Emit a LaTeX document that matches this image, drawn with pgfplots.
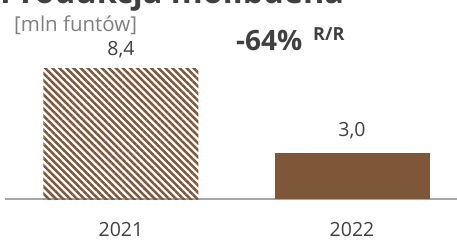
\documentclass[border=0pt]{standalone}
\usepackage{pgfplots}
\pgfplotsset{compat=1.18}
\usepackage{fontspec}
\setmainfont{Open Sans}
\usetikzlibrary{patterns.meta}
\definecolor{brownbar}{HTML}{7E5638}
\definecolor{txt}{HTML}{404040}
\definecolor{subtxt}{HTML}{7F7F7F}
\definecolor{axisgray}{HTML}{A6A6A6}
\begin{document}
\begin{tikzpicture}
\useasboundingbox (0,0) rectangle (457pt,242pt);
\clip (0,0) rectangle (457pt,242pt);
\begin{axis}[
  at={(5pt,43pt)}, anchor=south west,
  scale only axis, width=452pt, height=150pt,
  xmin=-0.502, xmax=1.4545, ymin=0, ymax=9.677,
  axis x line=bottom, hide y axis,
  x axis line style={-, draw=axisgray, line width=1.3pt},
  xtick={0,1}, xticklabels={2021,2022},
  major tick length=0pt,
  xticklabel style={anchor=base, yshift=-37pt, font=\fontsize{19.5}{22}\selectfont, text=txt},
  ybar, bar width=155pt,
  clip=false,
]
\addplot[bar shift=0pt, draw=none, pattern={Lines[angle=-45,distance=5pt,line width=2.5pt]}, pattern color=brownbar] coordinates {(0,8.4)};
\addplot[bar shift=0pt, draw=none, fill=brownbar] coordinates {(1,3.0)};
\node[anchor=base, text=txt, font=\fontsize{19.5}{22}\selectfont] at (axis cs:0,8.4) [yshift=13pt] {8,4};
\node[anchor=base, text=txt, font=\fontsize{19.5}{22}\selectfont] at (axis cs:1,3.0) [yshift=16pt] {3,0};
\end{axis}
\node[anchor=base west, inner sep=0pt, text=txt, font=\fontsize{32.5}{36}\selectfont\bfseries] at (0pt,239pt) {Produkcja molibdena};
\node[anchor=base west, inner sep=0pt, text=subtxt, font=\fontsize{20.5}{23}\selectfont] at (14pt,211pt) {[mln funtów]};
\node[anchor=base west, inner sep=0pt, text=txt, font=\fontsize{28}{32}\selectfont\bfseries] at (236pt,192pt) {-64\%};
\node[anchor=base west, inner sep=0pt, text=txt, font=\fontsize{18}{20}\selectfont\bfseries] at (313pt,202pt) {R/R};
\end{tikzpicture}
\end{document}
